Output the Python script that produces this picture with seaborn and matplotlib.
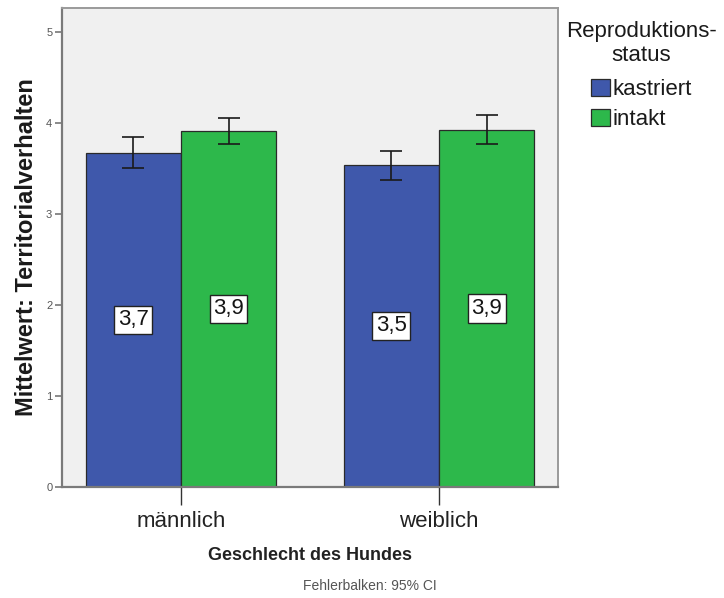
import matplotlib
matplotlib.use("Agg")
import matplotlib.pyplot as plt
import seaborn as sns
import pandas as pd
from matplotlib.patches import Patch

# Group means and 95% confidence intervals
geschlecht = ["männlich", "weiblich"]
status = ["kastriert", "intakt"]
mittel_kastriert = [3.67, 3.54]
mittel_intakt = [3.91, 3.92]
ci_low_kastriert = [3.50, 3.37]
ci_high_kastriert = [3.84, 3.69]
ci_low_intakt = [3.77, 3.77]
ci_high_intakt = [4.05, 4.09]
y_ticks = [0, 1, 2, 3, 4, 5]

farben = ["#3F58AB", "#2DB84B"]

df = pd.DataFrame({
    "Geschlecht": geschlecht * 2,
    "Status": [status[0]] * 2 + [status[1]] * 2,
    "Mittelwert": mittel_kastriert + mittel_intakt,
})
ci_low = {status[0]: ci_low_kastriert, status[1]: ci_low_intakt}
ci_high = {status[0]: ci_high_kastriert, status[1]: ci_high_intakt}
means = {status[0]: mittel_kastriert, status[1]: mittel_intakt}

sns.set_theme(style="white")
plt.rcParams["font.family"] = ["Liberation Sans", "DejaVu Sans"]

fig = plt.figure(figsize=(7.24, 5.98), dpi=100)
ax = fig.add_axes([62 / 724, 1 - 487 / 598, (558 - 62) / 724, (487 - 8) / 598])
ax.set_facecolor("#F0F0F0")

sns.barplot(data=df, x="Geschlecht", y="Mittelwert", hue="Status",
            order=geschlecht, hue_order=status, palette=farben,
            width=0.737, errorbar=None, edgecolor="#2a2a2a", linewidth=0.9,
            saturation=1, ax=ax, legend=False)

for cont, st in zip(ax.containers, status):
    for i, bar in enumerate(cont):
        cx = bar.get_x() + bar.get_width() / 2
        m = means[st][i]
        ax.errorbar(cx, m, yerr=[[m - ci_low[st][i]], [ci_high[st][i] - m]],
                    fmt="none", ecolor="#1a1a1a", elinewidth=1.2,
                    capsize=8, capthick=1.2, zorder=5)
        ax.text(cx, m / 2, f"{m:.1f}".replace(".", ","), ha="center", va="center",
                fontsize=16, color="#151515", zorder=6,
                bbox=dict(boxstyle="square,pad=0.16", facecolor="white",
                          edgecolor="#222222", linewidth=1.0))

ax.set_xlim(-0.461, 1.461)
ax.set_ylim(0, 5.26)
ax.set_yticks(y_ticks)
ax.set_yticklabels([str(t) for t in y_ticks], fontsize=8, color="#555555")
ax.tick_params(axis="y", direction="out", length=5, width=1.2, color="#777777", pad=2, left=True)
ax.tick_params(axis="x", direction="out", length=13, width=1.0, color="#333333",
               labelsize=16, labelcolor="#222222", pad=4, bottom=True)

for side in ["left", "bottom"]:
    ax.spines[side].set_color("#7a7a7a")
    ax.spines[side].set_linewidth(1.6)
for side in ["top", "right"]:
    ax.spines[side].set_color("#9a9a9a")
    ax.spines[side].set_linewidth(1.4)

ax.set_ylabel("Mittelwert: Territorialverhalten", fontsize=17, fontweight="bold",
              color="#1a1a1a", labelpad=6)
ax.set_xlabel("Geschlecht des Hundes", fontsize=13, fontweight="bold",
              color="#222222", labelpad=11)

fig.text(370 / 724, 1 - 586 / 598, "Fehlerbalken: 95% CI", ha="center", va="center",
         fontsize=10, color="#555555")

handles = [Patch(facecolor=c, edgecolor="#2a2a2a", linewidth=0.9) for c in farben]
leg = fig.legend(handles, status, title="Reproduktions-\nstatus",
                 loc="upper left", bbox_to_anchor=(566 / 724, 1 - 21 / 598),
                 frameon=False, fontsize=16, title_fontsize=16,
                 handlelength=0.85, handleheight=0.85, handletextpad=0.1,
                 labelspacing=0.38, borderaxespad=0, borderpad=0)
leg.get_title().set_multialignment("center")
leg.get_title().set_color("#1a1a1a")
leg._legend_box.sep = 9
for t in leg.get_texts():
    t.set_color("#1a1a1a")

fig.savefig("out.png", dpi=100)
